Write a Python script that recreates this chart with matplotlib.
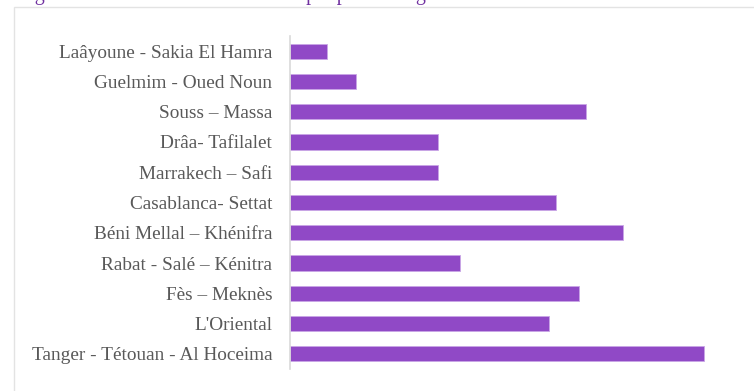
import matplotlib
matplotlib.use("Agg")
import matplotlib.pyplot as plt
from matplotlib.patches import Rectangle

regions = [
    "Laâyoune - Sakia El Hamra",
    "Guelmim - Oued Noun",
    "Souss – Massa",
    "Drâa- Tafilalet",
    "Marrakech – Safi",
    "Casablanca- Settat",
    "Béni Mellal – Khénifra",
    "Rabat - Salé – Kénitra",
    "Fès – Meknès",
    "L'Oriental",
    "Tanger - Tétouan - Al Hoceima",
]
values = [37, 66, 296, 148, 148, 266, 333, 170, 289, 259, 414]
title = "Figure 5 : Distribution des effectifs par pourcentage"

BAR = "#9049c6"
W, H = 754, 391
fig = plt.figure(figsize=(W / 100, H / 100), dpi=100)

# light frame around the chart area
fig.patches.append(Rectangle((13.5 / W, -0.1), 1.0, 1.1 - 6.5 / H, transform=fig.transFigure,
                             fill=False, edgecolor="#e3e3e3", linewidth=1.0))

# caption sits just above the top edge, only its descenders show
fig.text(18 / W, 1 + 0.3 / H, title, fontfamily="Liberation Serif", fontsize=14.5,
         color="#7030a0", va="baseline", ha="left")

left, right = 289.5, 740
top, bottom = 36, 369
ax = fig.add_axes([left / W, (H - bottom) / H, (right - left) / W, (bottom - top) / H])

y = list(range(len(regions)))
ax.barh(y, values, height=0.5, color=BAR, edgecolor="#c9a6e6", linewidth=0.6)
ax.set_ylim(len(regions) - 0.5, -0.5)
ax.set_xlim(0, right - left)
ax.set_yticks(y)
ax.set_yticklabels(regions, fontfamily="Liberation Serif", fontsize=13.9, color="#595959")
ax.tick_params(axis="y", length=0, pad=12.5)
ax.set_xticks([])
for s in ["top", "right", "bottom"]:
    ax.spines[s].set_visible(False)
ax.spines["left"].set_color("#d9d9d9")
ax.spines["left"].set_linewidth(1.2)

fig.savefig("out.png", dpi=100)
